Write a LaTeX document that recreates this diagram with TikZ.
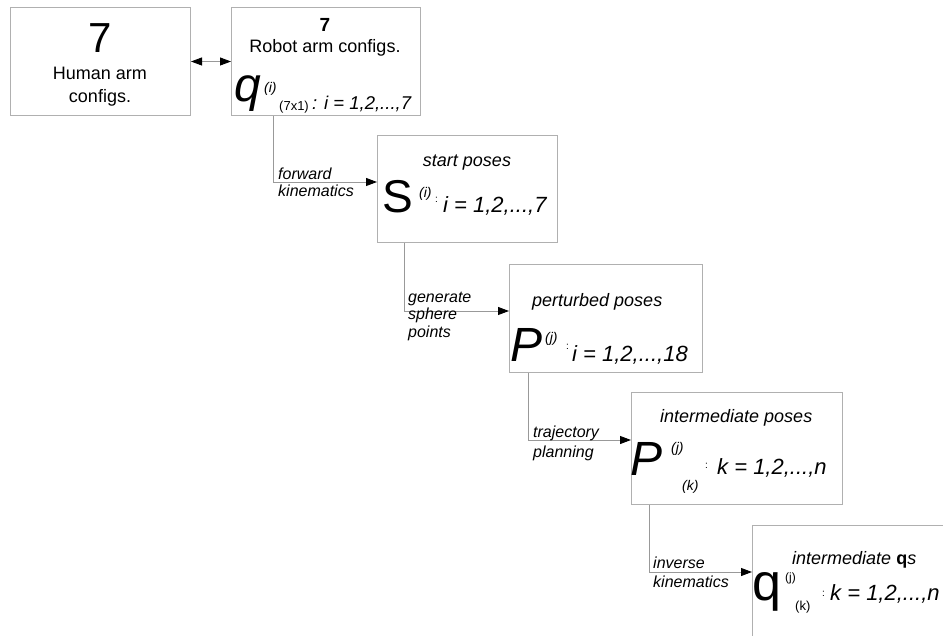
\documentclass[tikz,border=0pt]{standalone}
\usepackage{fontspec}
\setmainfont{Liberation Sans}
\usetikzlibrary{arrows.meta}
\definecolor{boxc}{HTML}{B0B0B0}
\definecolor{linec}{HTML}{999999}
\newcommand\myfs[1]{\fontsize{#1pt}{#1pt}\selectfont}
\begin{document}
\begin{tikzpicture}[x=1pt,y=-1pt,
  box/.style={draw=boxc, line width=1pt, fill=white, inner sep=0, anchor=north west},
  conn/.style={draw=linec, line width=0.9pt},
  tip/.style={-{Triangle[length=11pt,width=8pt,color=black]}},
  t/.style={inner sep=0, anchor=base west},
  tc/.style={inner sep=0, anchor=base}]
\useasboundingbox (0,0) rectangle (943,636);
\clip (0,0) rectangle (943,636);
\fill[white] (0,0) rectangle (943,636);
% boxes
\node[box, minimum width=180pt, minimum height=108pt] (b1) at (10,7) {};
\node[box, minimum width=189pt, minimum height=108pt] (b2) at (231,7) {};
\node[box, minimum width=180pt, minimum height=107pt] (b3) at (377,135) {};
\node[box, minimum width=193pt, minimum height=108pt] (b4) at (509,264) {};
\node[box, minimum width=211pt, minimum height=112pt] (b5) at (631,392) {};
\node[box, minimum width=250pt, minimum height=150pt] (b6) at (752,525) {};
% connectors
\draw[conn, {Triangle[length=11pt,width=8pt,color=black]}-{Triangle[length=11pt,width=8pt,color=black]}] (b1.east) -- (b2.west);
\coordinate (k1) at (273,182);
\coordinate (k2) at (404,311);
\coordinate (k3) at (528,440);
\coordinate (k4) at (649,572);
\draw[conn, tip] (k1 |- b2.south) -- (k1) -- (k1 -| b3.west);
\draw[conn, tip] (k2 |- b3.south) -- (k2) -- (k2 -| b4.west);
\draw[conn, tip] (k3 |- b4.south) -- (k3) -- (k3 -| b5.west);
\draw[conn, tip] (k4 |- b5.south) -- (k4) -- (k4 -| b6.west);
% connector labels
\node[t, font=\myfs{16}\itshape] (l1a) at (278,180) {forward};
\node[t, font=\myfs{16}\itshape] (l1b) at (278,197) {kinematics};
\node[t, font=\myfs{16}\itshape] (l2a) at (408,303) {generate};
\node[t, font=\myfs{16}\itshape] (l2b) at (408,320) {sphere};
\node[t, font=\myfs{16}\itshape] (l2c) at (408,338) {points};
\node[t, font=\myfs{16}\itshape] (l3a) at (533,438) {trajectory};
\node[t, font=\myfs{16}\itshape] (l3b) at (533,457) {planning};
\node[t, font=\myfs{16}\itshape] (l4a) at (653,568) {inverse};
\node[t, font=\myfs{16}\itshape] (l4b) at (653,587) {kinematics};
% box 1
\node[tc, font=\myfs{42}] (h7) at (100,53) {7};
\node[tc, font=\myfs{18}] (h1) at (100,80) {Human arm};
\node[tc, font=\myfs{18}] (h2) at (100,103) {configs.};
% box 2
\node[tc, font=\myfs{19}\bfseries] (r7) at (325,32) {7};
\node[tc, font=\myfs{18}] (r1) at (325,53) {Robot arm configs.};
\node[t, font=\myfs{48}\itshape] (rq) at (234,102) {q};
\node[t, font=\myfs{14}\itshape] (rqs) at (264,93) {(i)};
\node[t, font=\myfs{13}] (rqb) at (279,111) {(7x1)};
\node[t, font=\myfs{18.5}\itshape] (rqt) at (312,110) {: i = 1,2,...,7};
% box 3
\node[tc, font=\myfs{18}\itshape] (s1) at (467,167) {start poses};
\node[t, font=\myfs{46}] (sS) at (382,213) {S};
\node[t, font=\myfs{14}\itshape] (sSs) at (419,198) {(i)};
\node[t, font=\myfs{10}] (sc) at (435,203) {:};
\node[t, font=\myfs{22}\itshape] (st) at (443,213) {i = 1,2,...,7};
% box 4
\node[t, font=\myfs{18}\itshape] (p1) at (532,307) {perturbed poses};
\node[t, font=\myfs{48}\itshape] (pP) at (510,362) {P};
\node[t, font=\myfs{14}\itshape] (pPs) at (545,343) {(j)};
\node[t, font=\myfs{10}] (pc) at (566,350) {:};
\node[t, font=\myfs{22}\itshape] (pt) at (572,362) {i = 1,2,...,18};
% box 5
\node[t, font=\myfs{18}\itshape] (m1) at (660,423) {intermediate poses};
\node[t, font=\myfs{48}\itshape] (mP) at (630,475) {P};
\node[t, font=\myfs{14}\itshape] (mPs) at (671,452) {(j)};
\node[t, font=\myfs{14}\itshape] (mPb) at (682,490) {(k)};
\node[t, font=\myfs{10}] (mc) at (705,468) {:};
\node[t, font=\myfs{22}\itshape] (mt) at (717,474) {k = 1,2,...,n};
% box 6
\node[t, font=\myfs{18}\itshape] (n1) at (792,564) {intermediate \textbf{\upshape q}s};
\node[t, font=\myfs{52}] (nq) at (752,600) {q};
\node[t, font=\myfs{12}] (nqs) at (785,581) {(j)};
\node[t, font=\myfs{13}] (nqb) at (795,610) {(k)};
\node[t, font=\myfs{10}] (nc) at (822,596) {:};
\node[t, font=\myfs{22}\itshape] (nt) at (830,600) {k = 1,2,...,n};
\end{tikzpicture}
\end{document}
